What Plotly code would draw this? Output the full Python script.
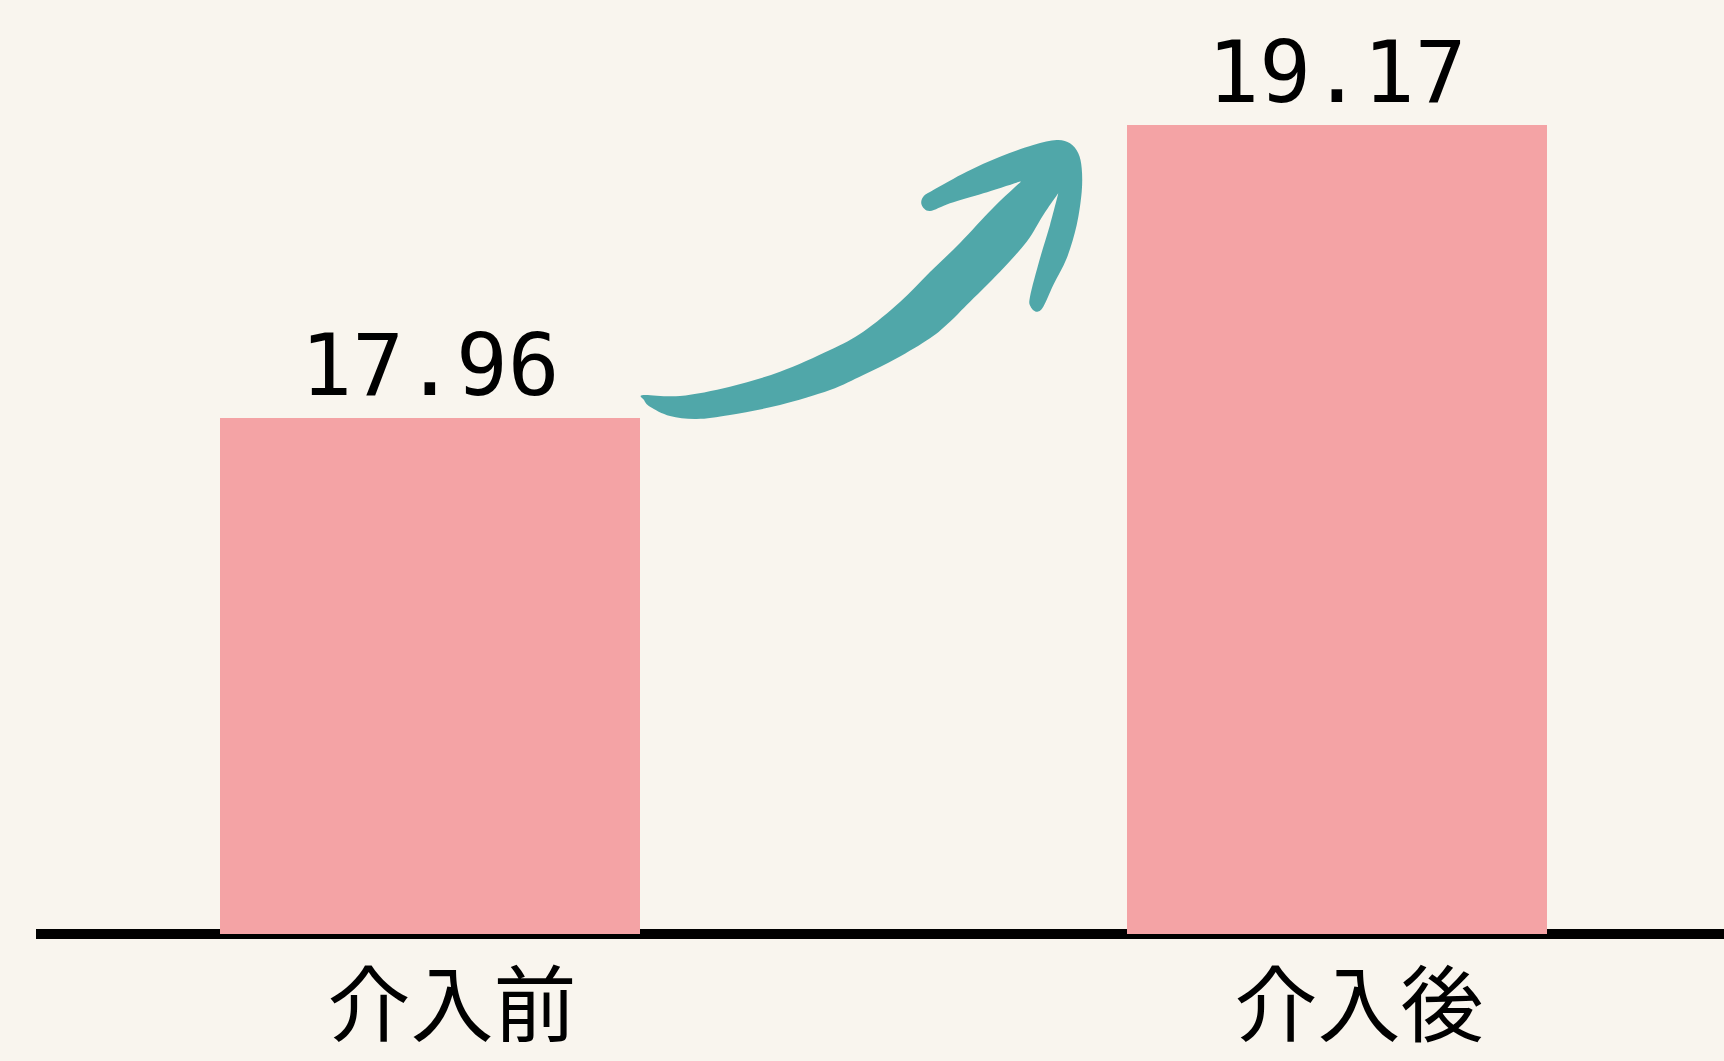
import plotly.graph_objects as go

categories = ["介入前", "介入後"]
values = [17.96, 19.17]

BG = "#F9F5EE"
BAR = "#F4A3A5"
TEAL = "#50A7A9"

W, H = 1724, 1061
PLOT_BOTTOM_PX = 934

fig = go.Figure()
fig.add_trace(go.Bar(
    x=categories, y=values,
    marker=dict(color=BAR, line=dict(width=0)),
    width=0.4631,
    texttemplate="%{y:.2f}",
    textposition="outside",
    textfont=dict(family="DejaVu Sans Mono", size=86, color="black"),
    cliponaxis=False,
    hoverinfo="skip",
))

# hand-drawn arrow outline (page pixel coordinates); "c" marks sharp corners
arrow_px = [
    (643.3, 395), (680, 396), (730, 386.7), (780, 371.7), (830, 350),
    (863.3, 331.7), (900, 302), (930, 272), (960, 243), (993, 208),
    (1021.7, 181, "c"),
    (983.3, 193.3), (950, 203.3), (930, 211), (921.7, 205), (923.3, 196.7),
    (933.3, 190), (966.7, 171.7), (1000, 156.7), (1033.3, 145), (1056.7, 140),
    (1070, 143.3), (1078.3, 153.3), (1081.7, 168.3), (1081.7, 191.7),
    (1076.7, 225), (1066.7, 258.3), (1053.3, 285), (1043.3, 306.7),
    (1036.7, 311.7), (1030.7, 306.7), (1030, 296.7), (1040, 258.3), (1050, 225),
    (1058.3, 193.3, "c"),
    (1043.3, 215), (1026.7, 241.7), (1000, 271.7), (966.7, 305), (950, 321.7),
    (930, 338.3), (896.7, 358.3), (863.3, 375), (830, 390), (780, 405),
    (730, 415), (696.7, 419), (670, 416), (650, 406.7), (644, 400),
]


def to_paper(px, py):
    return px / W, (PLOT_BOTTOM_PX - py) / PLOT_BOTTOM_PX


pts = [to_paper(p[0], p[1]) for p in arrow_px]
corner = [len(p) == 3 for p in arrow_px]
n = len(pts)
parts = [f"M {pts[0][0]:.5f},{pts[0][1]:.5f}"]
for i in range(n):
    p0 = pts[(i - 1) % n]
    p1 = pts[i]
    p2 = pts[(i + 1) % n]
    p3 = pts[(i + 2) % n]
    if corner[i]:
        c1 = p1
    else:
        c1 = (p1[0] + (p2[0] - p0[0]) / 6, p1[1] + (p2[1] - p0[1]) / 6)
    if corner[(i + 1) % n]:
        c2 = p2
    else:
        c2 = (p2[0] - (p3[0] - p1[0]) / 6, p2[1] - (p3[1] - p1[1]) / 6)
    parts.append(
        f"C {c1[0]:.5f},{c1[1]:.5f} {c2[0]:.5f},{c2[1]:.5f} {p2[0]:.5f},{p2[1]:.5f}"
    )
path = " ".join(parts) + " Z"

fig.update_layout(
    width=W, height=H,
    margin=dict(l=0, r=0, t=0, b=H - PLOT_BOTTOM_PX, pad=0, autoexpand=False),
    paper_bgcolor=BG, plot_bgcolor=BG,
    showlegend=False,
    bargap=0,
    xaxis=dict(
        range=[-0.4741, 1.4267],
        automargin=False,
        showgrid=False, zeroline=False, showline=False, ticks="",
        tickfont=dict(family="Noto Sans CJK JP", size=83, color="black"),
        ticklabelshift=22,
        ticklabelstandoff=17,
    ),
    yaxis=dict(
        range=[15.829, 19.686],
        automargin=False,
        showgrid=False, zeroline=False, showline=False,
        showticklabels=False, ticks="",
    ),
    shapes=[
        dict(type="line", xref="paper", yref="paper",
             x0=36 / W, x1=1, y0=0, y1=0,
             line=dict(color="black", width=10), layer="below"),
        dict(type="path", xref="paper", yref="paper", path=path,
             fillcolor=TEAL, line=dict(width=0), layer="above"),
    ],
)

fig.write_html("out.html")
